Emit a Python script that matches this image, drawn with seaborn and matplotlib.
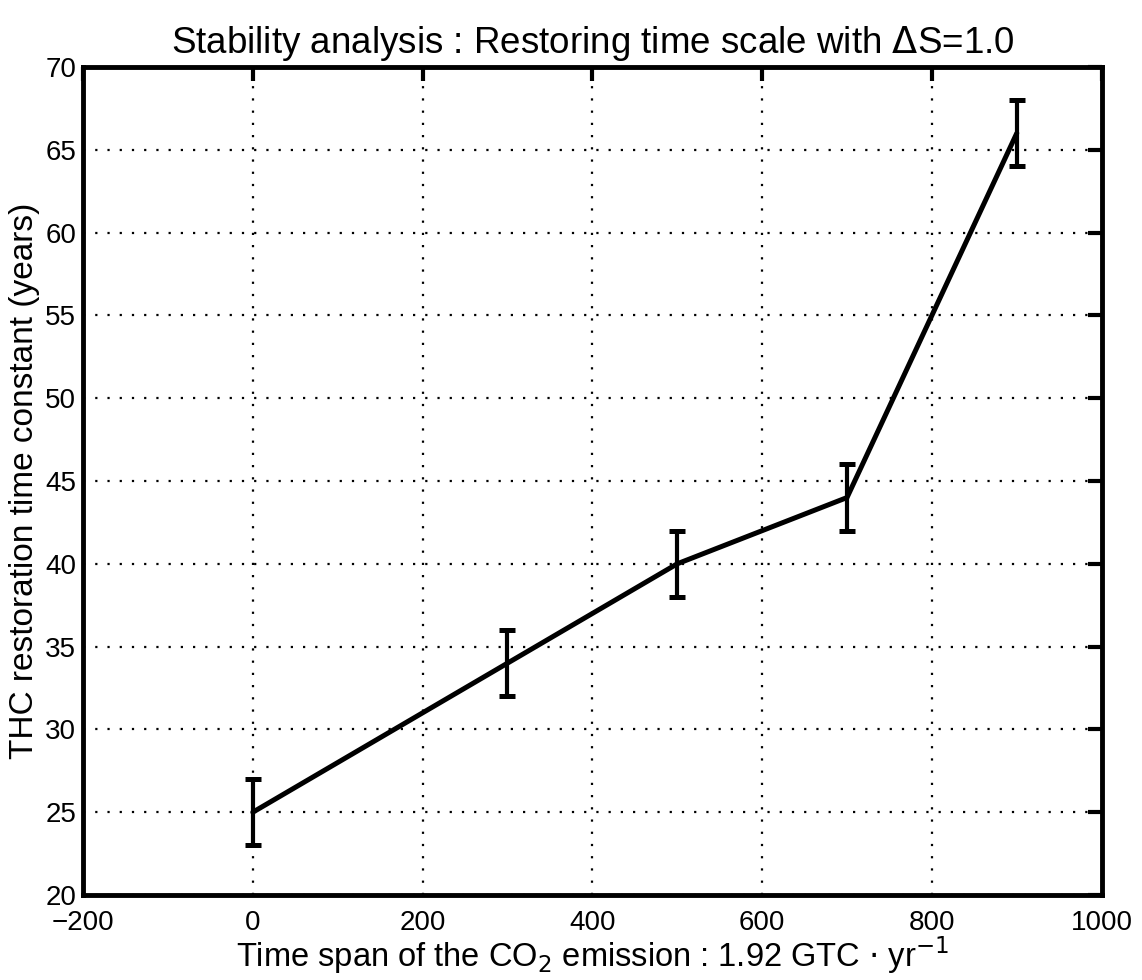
import matplotlib
matplotlib.use('Agg')
import matplotlib.pyplot as plt
import seaborn as sns
import pandas as pd

# Datos
time_span = [0, 300, 500, 700, 900]
restoring_time = [25, 34, 40, 44, 66]
error = [2, 2, 2, 2, 2]

sns.set_style('white')
plt.rcParams['font.family'] = ['Liberation Sans', 'DejaVu Sans']
for k in ['text.color', 'axes.labelcolor', 'xtick.color', 'ytick.color']:
    plt.rcParams[k] = 'black'

df = pd.DataFrame({'time_span': time_span, 'restoring_time': restoring_time})

fig = plt.figure(figsize=(11.42, 9.8), dpi=100)
ax = fig.add_axes([0.0727, 0.0867, 0.892, 0.845])

sns.lineplot(data=df, x='time_span', y='restoring_time', color='black', linewidth=3.6, ax=ax)
ax.errorbar(time_span, restoring_time, yerr=error, fmt='none', ecolor='black',
            elinewidth=3, capsize=5.5, capthick=3.6)

ax.set_xlim(-200, 1000)
ax.set_ylim(20, 70)
ax.set_xticks(range(-200, 1001, 200))
ax.set_yticks(range(20, 71, 5))

ax.grid(True, color='black', linestyle=(0, (1, 4.5)), linewidth=1.6)
ax.tick_params(direction='in', length=10, width=3, top=True, right=True,
               labelsize=20, colors='black')
ax.tick_params(axis='x', pad=11)
ax.tick_params(axis='y', pad=5)
for s in ax.spines.values():
    s.set_linewidth(3.5)
    s.set_color('black')

ax.set_title(r'Stability analysis : Restoring time scale with $\Delta$S=1.0',
             fontsize=26.5, pad=10)
ax.set_xlabel(r'Time span of the CO$_2$ emission : 1.92 GTC $\cdot$ yr$^{-1}$', fontsize=23.5)
ax.xaxis.set_label_coords(0.5, -0.047)
ax.set_ylabel('THC restoration time constant (years)', fontsize=24, labelpad=4)

fig.savefig('out.png', dpi=100)
